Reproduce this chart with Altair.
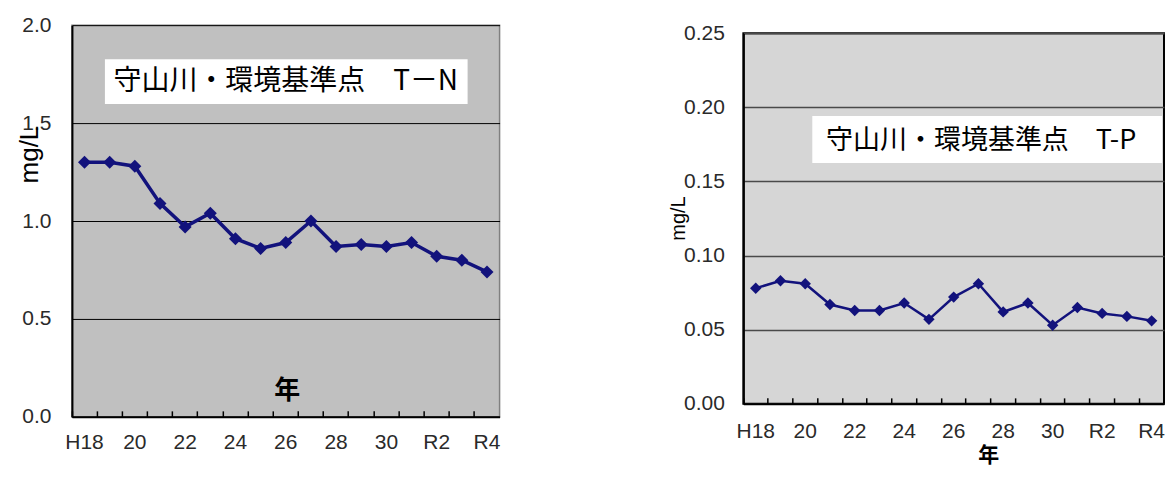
import altair as alt
import pandas as pd

# ---- data ----
years = ["H18", "19", "20", "21", "22", "23", "24", "25", "26", "27",
         "28", "29", "30", "R1", "R2", "R3", "R4"]
label_years = ["H18", "20", "22", "24", "26", "28", "30", "R2", "R4"]
tn_values = [1.30, 1.30, 1.28, 1.09, 0.97, 1.04, 0.91, 0.86, 0.89, 1.00,
             0.87, 0.88, 0.87, 0.89, 0.82, 0.80, 0.74]
tp_values = [0.078, 0.083, 0.081, 0.067, 0.063, 0.063, 0.068, 0.057, 0.072, 0.081,
             0.062, 0.068, 0.053, 0.065, 0.061, 0.059, 0.056]
tn_ticks = [0.0, 0.5, 1.0, 1.5, 2.0]
tp_ticks = [0.0, 0.05, 0.10, 0.15, 0.20, 0.25]
tn_title = "守山川・環境基準点　T－N"
tp_title = "守山川・環境基準点　T-P"
y_title = "mg/L"
x_title = "年"

LINE = "#12127c"
NUM_FONT = "Liberation Sans"
JP_FONT = "Noto Sans CJK JP"
LABEL_COLOR = "#2a2a2a"


def panel(values, ticks, fmt, ymax, title_text, w, h, o):
    df = pd.DataFrame({"year": years, "v": values})
    xscale = alt.Scale(type="band", paddingInner=0, paddingOuter=0)
    yaxis = alt.Axis(
        orient="left",
        values=ticks, format=fmt, grid=True, gridColor=o["grid"], gridWidth=o["gridw"],
        ticks=False, domainColor="black", domainWidth=2,
        labelFont=NUM_FONT, labelFontSize=21, labelColor=LABEL_COLOR,
        labelPadding=o["ylp"],
        title=y_title, titleFont=NUM_FONT, titleFontSize=o["ytfs"], titleFontWeight="normal",
        titleColor="black", titleX=o["ytx"], titleY=o["yty"], titleAlign="center",
        titleBaseline="middle", titleAngle=270,
    )
    yenc = alt.Y("v:Q", scale=alt.Scale(domain=[0, ymax], nice=False, zero=True), axis=yaxis)
    tick_axis = alt.Axis(
        orient="bottom",
        labels=False, domain=False, ticks=True, tickSize=6, tickWidth=1.5, tickColor="black",
        offset=-6, bandPosition=0, title=None, grid=False,
    )
    label_axis = alt.Axis(
        orient="bottom",
        values=label_years, ticks=False, domain=True, domainColor="black", domainWidth=2,
        labelFont=NUM_FONT, labelFontSize=21, labelColor=LABEL_COLOR, labelAngle=0,
        labelPadding=o["xlp"], bandPosition=0.5, grid=False,
        title=x_title, titleFont=JP_FONT, titleFontSize=o["xtfs"], titleFontWeight="bold",
        titleColor="black", titleX=o["xtx"], titleY=o["xty"], titleAlign="center",
        titleBaseline="middle",
    )
    one = alt.Data(values=[{}])
    box = alt.Chart(one).mark_rect(fill="white").encode(
        x=alt.value(o["box"][0]), x2=alt.value(o["box"][1]),
        y=alt.value(o["box"][2]), y2=alt.value(o["box"][3]))
    txt = alt.Chart(one).mark_text(
        text=title_text, font=JP_FONT, fontSize=o["tfs"], color="black",
        align="center", baseline="middle").encode(
        x=alt.value(o["txt"][0]), y=alt.value(o["txt"][1]))
    line = alt.Chart(df).mark_line(color=LINE, strokeWidth=o["lw"]).encode(
        x=alt.X("year:N", sort=years, scale=xscale, bandPosition=0.5, axis=tick_axis),
        y=yenc)
    pts = alt.Chart(df).mark_point(shape="diamond", filled=True, size=o["ps"],
                                   color=LINE, opacity=1).encode(
        x=alt.X("year:N", sort=years, scale=xscale, bandPosition=0.5, axis=label_axis),
        y=yenc)
    return alt.layer(box, txt, line, pts).resolve_axis(x="independent").properties(
        width=w, height=h,
        view=alt.ViewBackground(fill=o["bg"], stroke=o["stroke"], strokeWidth=o["sw"]))


left = panel(tn_values, tn_ticks, ".1f", 2.0, tn_title, 428, 392, dict(
    grid="black", gridw=1, ylp=21, ytfs=26, ytx=-42, yty=129,
    xlp=15, xtfs=26, xtx=215, xty=-26,
    box=(33, 396, 34, 79), txt=(214, 57), tfs=28, lw=3.5, ps=170,
    bg="#c0c0c0", stroke="#808080", sw=1.5))

right = panel(tp_values, tp_ticks, ".2f", 0.25, tp_title, 421, 371, dict(
    grid="#4a4a4a", gridw=1.5, ylp=19, ytfs=20, ytx=-65, yty=185,
    xlp=17, xtfs=21, xtx=245, xty=52,
    box=(69, 419, 83, 130), txt=(238, 108), tfs=27, lw=2.5, ps=130,
    bg="#d6d6d6", stroke="black", sw=2))

# empty strip above the right panel so that its plot starts a little lower
spacer = alt.Chart(alt.Data(values=[{}])).mark_rule(strokeOpacity=0).encode(
    x=alt.value(0), y=alt.value(0), y2=alt.value(8)
).properties(width=421, height=8, view=alt.ViewBackground(strokeOpacity=0, fillOpacity=0))

right_cell = alt.vconcat(spacer, right, spacing=0, bounds="flush")

chart = alt.hconcat(left, right_cell, spacing=166).properties(
    padding={"left": 8, "top": 5, "right": 0, "bottom": 0},
    background="white",
)

chart.save("out.html", embed_options={"renderer": "svg", "actions": False})
